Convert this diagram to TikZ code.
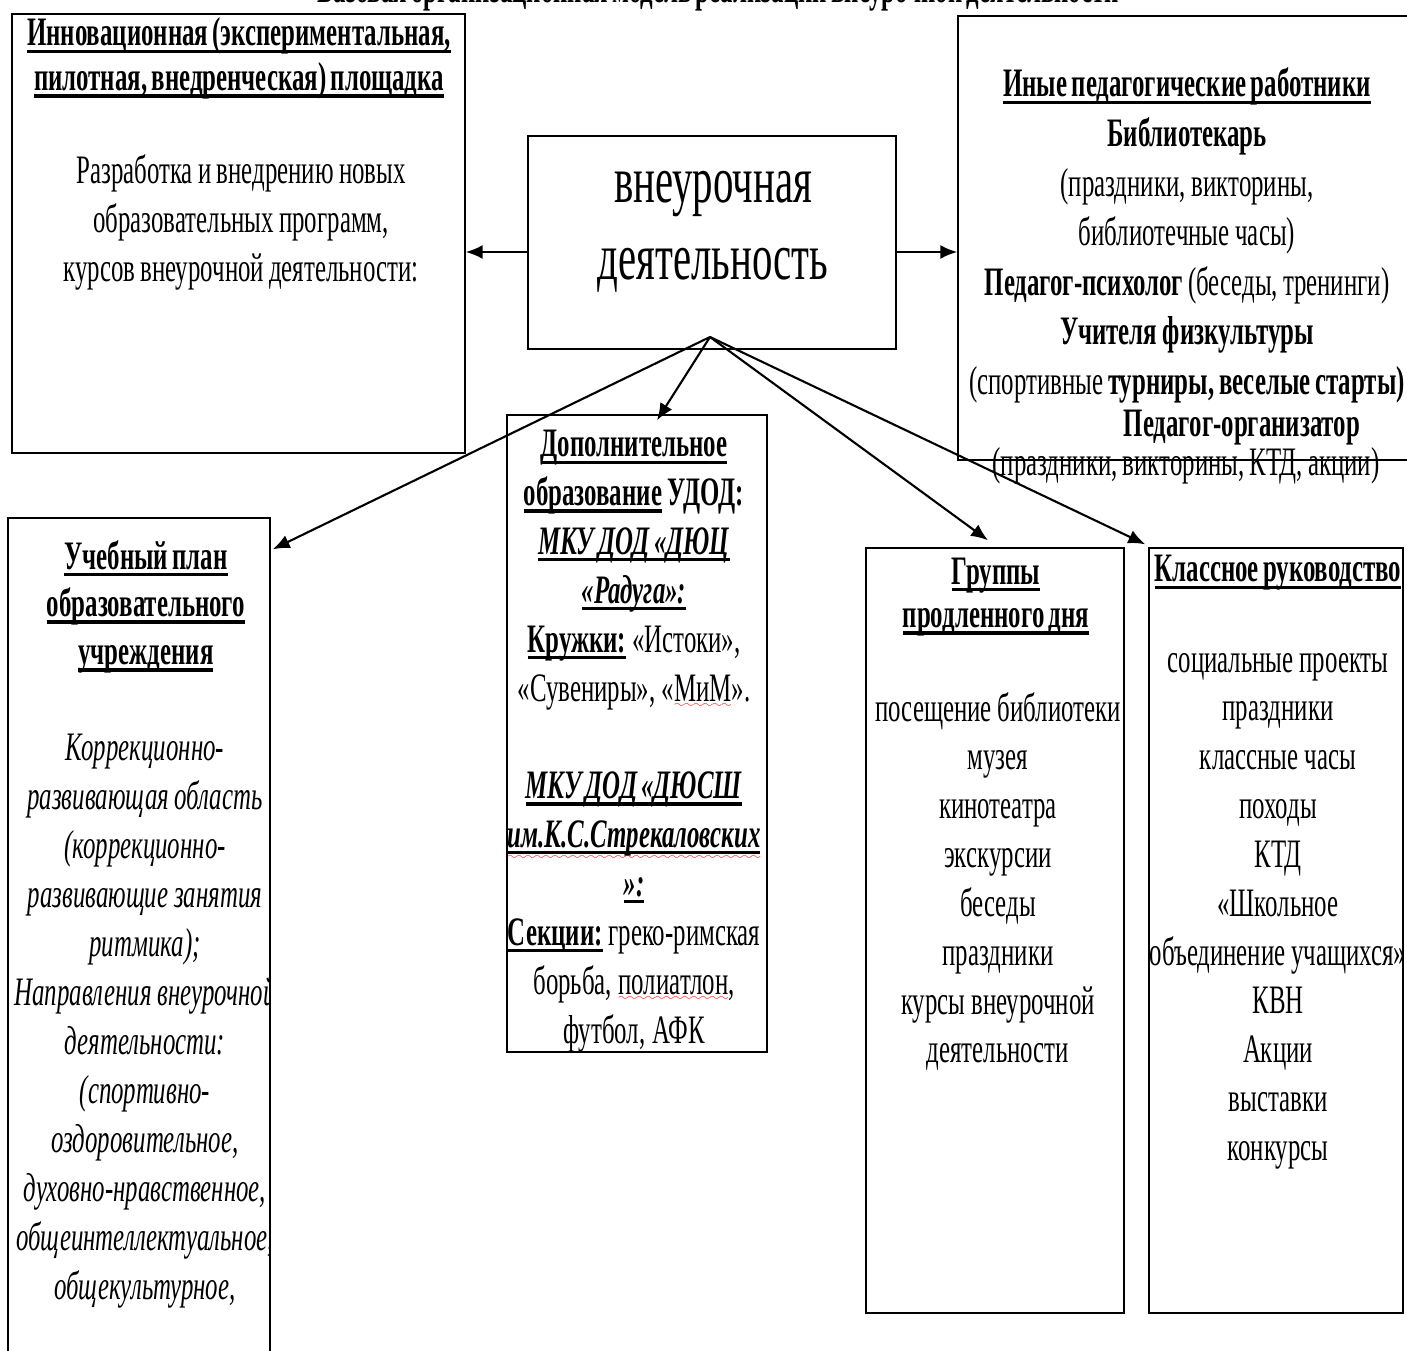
\documentclass[tikz,border=0pt]{standalone}
\usepackage{fontspec}
\setmainfont{Liberation Serif}[FakeStretch=0.615]
\usepackage{tikz}
\usetikzlibrary{arrows.meta, calc, fit}
\newsavebox{\ulbox}
\font\wavefont=lasy6
\newcommand{\tightsp}{\spaceskip=2.5pt plus 0.5pt minus 0.5pt\relax}
\newcommand{\ulx}[1]{\leavevmode\sbox\ulbox{#1}\rlap{\rule[-3.8pt]{\wd\ulbox}{1.8pt}}\usebox\ulbox}
\newcommand{\hd}[1]{\ulx{\textbf{#1}}}
\newcommand{\hdit}[1]{\ulx{\textbf{\textit{#1}}}}
\newcommand{\spellwave}[2][3.5pt]{\leavevmode\sbox\ulbox{#2}\rlap{\textcolor{red}{\lower#1\hbox to \wd\ulbox{\xleaders\hbox{\wavefont\char58}\hfil}}}\usebox\ulbox}

\begin{document}
\begin{tikzpicture}[x=0.02cm,y=-0.02cm,
    box/.style={draw, line width=0.8pt, inner sep=0pt},
    txt/.style={anchor=base, align=center, text width=10cm, inner sep=0pt, font=\fontsize{23}{27.8}\selectfont, execute at begin node=\tightsp},
    link/.style={-{Latex[length=3.4mm,width=2.8mm]}, line width=1.2pt}]
    \useasboundingbox (0,0) rectangle (1407,1351);
    % title, only its lower edge is on the page
    \node[anchor=base, inner sep=0pt, font=\fontsize{23}{27.8}\selectfont\bfseries, execute at begin node=\tightsp] (title) at (718,3) {Базовая организационная модель реализации внеурочной деятельности};
    % frames
    \node[box, fit={(12,14) (465,453)}] (innov) {};
    \node[box, fit={(528,136) (896,349)}] (core) {};
    \node[box, fit={(958,16) (1430,460)}] (staff) {};
    \node[box, fit={(8,518) (270,1380)}] (plan) {};
    \node[box, fit={(507,415) (767,1052)}] (extra) {};
    \node[box, fit={(866,548) (1124,1313)}] (gpd) {};
    \node[box, fit={(1149,548) (1403,1313)}] (klass) {};
    % texts
    \node[txt, font=\fontsize{23}{25.6}\selectfont] (innovhead) at (239,46) {\hd{Инновационная (экспериментальная,}\\\hd{пилотная, внедренческая) площадка}};
    \node[txt] (innovbody) at (241,184) {Разработка и внедрению новых\\образовательных программ,\\курсов внеурочной деятельности:};
    \node[txt, font=\fontsize{37.8}{43.8}\selectfont] (coretxt) at (713,203) {внеурочная\\деятельность};
    \node[txt, font=\fontsize{23}{28.2}\selectfont] (stafftxt) at (1187,97) {\hd{Иные педагогические работники}\\\textbf{Библиотекарь}\\(праздники, викторины,\\библиотечные часы)\\\textbf{Педагог-психолог} (беседы, тренинги)\\\textbf{Учителя физкультуры}\\(спортивные \textbf{турниры, веселые старты)}};
    \node[txt] (orgtxt) at (1242,437) {\textbf{Педагог-организатор}};
    \node[txt] (orgnote) at (1186,476) {(праздники, викторины, КТД, акции)};
    \begin{scope}
      \clip (8,518) rectangle (270,1351);
      \node[txt, font=\fontsize{23}{27.3}\selectfont] (planhead) at (146,569) {\hd{Учебный план}\\\hd{образовательного}\\\hd{учреждения}};
      \node[txt, font=\fontsize{23}{27.9}\selectfont\itshape] (planbody) at (145,760) {Коррекционно-\\развивающая область\\(коррекционно-\\развивающие занятия\\ритмика);\\Направления внеурочной\\деятельности:\\(спортивно-\\оздоровительное,\\духовно-нравственное,\\общеинтеллектуальное,\\общекультурное,};
    \end{scope}
    \node[txt] (extratxt) at (634,457) {\hd{Дополнительное}\\\hd{образование}\textbf{ УДОД:}\\\hdit{МКУ ДОД «ДЮЦ}\\\hdit{«Радуга»:}\\\hd{Кружки:} «Истоки»,\\«Сувениры», «\spellwave{МиМ}».\\ \mbox{}\\\hdit{МКУ ДОД «ДЮСШ}\\\hdit{\spellwave[6.5pt]{им.К.С.Стрекаловских}}\\\hdit{»:}\\\hd{Секции:} греко-римская\\борьба, \spellwave{полиатлон},\\футбол, АФК};
    \node[txt, font=\fontsize{23}{25}\selectfont] (gpdhead) at (996,584) {\hd{Группы}\\\hd{продленного дня}};
    \node[txt] (gpdbody) at (998,721) {посещение библиотеки\\музея\\кинотеатра\\экскурсии\\беседы\\праздники\\курсы внеурочной\\деятельности};
    \begin{scope}
      \clip (1149,548) rectangle (1403,1313);
      \node[txt] (klasshead) at (1278,582) {\hd{Классное руководство}};
      \node[txt] (klassbody) at (1278,672) {социальные проекты\\праздники\\классные часы\\походы\\КТД\\«Школьное\\объединение учащихся»\\КВН\\Акции\\выставки\\конкурсы};
    \end{scope}
    % arrows
    \coordinate (hub) at (710,337);
    \draw[link] (core.west |- 0,252) -- (innov.east |- 0,252);
    \draw[link] (core.east |- 0,252) -- (staff.west |- 0,252);
    \draw[link] (hub) -- ($(extra.north)+(20,6)$);
    \draw[link] (hub) -- ($(plan.north east)+(2,32)$);
    \draw[link] (hub) -- ($(gpd.north)+(-7,-7)$);
    \draw[link] (hub) -- ($(klass.north west)+(-3,-3)$);
\end{tikzpicture}
\end{document}
